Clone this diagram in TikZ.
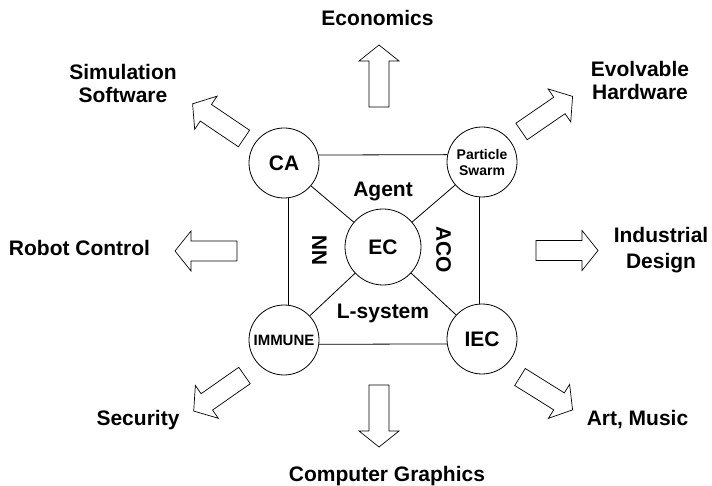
\documentclass[tikz,border=0pt]{standalone}
\usepackage{fontspec}
\setmainfont{Liberation Sans}
\newcommand\blockarrow[3]{\draw[barrow, shift={(#1)}, rotate=#3] (0,-10) -- (46,-10) -- (46,-20) -- (62,0) -- (46,20) -- (46,10) -- (0,10) -- cycle;}
\begin{document}
\begin{tikzpicture}[x=1pt,y=1pt,
  circ/.style={circle, draw, line width=0.8pt, fill=white, inner sep=0pt, minimum size=70pt, font=\fontsize{21}{23}\selectfont\bfseries},
  conn/.style={line width=0.8pt},
  barrow/.style={draw, line width=0.7pt, fill=white, line join=miter},
  lab/.style={inner sep=0pt, anchor=north, align=center, font=\fontsize{21}{23}\selectfont\bfseries},
  inlab/.style={inner sep=0pt, font=\fontsize{21}{23}\selectfont\bfseries}]
\useasboundingbox (0,0) rectangle (712,485);
% circles
\node[circ] (CA) at (284,322) {CA};
\node[circ, font=\fontsize{14}{16}\selectfont\bfseries, align=center] (PS) at (482,323) {Particle\\Swarm};
\node[circ, minimum size=76pt] (EC) at (383,238) {EC};
\node[circ, font=\fontsize{15}{17}\selectfont\bfseries] (IM) at (284,145) {IMMUNE};
\node[circ] (IEC) at (482,146) {IEC};
% connectors
\draw[conn] (CA.13) -- (PS.168);
\draw[conn] (IM.-7) -- (IEC.-172);
\draw[conn] (CA.-83) -- (IM.83);
\draw[conn] (PS.-95) -- (IEC.95);
\draw[conn] (CA) -- (EC);
\draw[conn] (PS) -- (EC);
\draw[conn] (IM) -- (EC);
\draw[conn] (IEC) -- (EC);
% inner labels
\node[inlab, anchor=base] (agent) at (383,288) {Agent};
\node[inlab, anchor=base] (lsys) at (383,166) {L-system};
\node[inlab, rotate=90] (nn) at (319.5,235) {NN};
\node[inlab, rotate=-90] (aco) at (443.5,235.5) {ACO};
% block arrows
\blockarrow{379,378}{}{90}
\blockarrow{379,100}{}{-90}
\blockarrow{237,234}{}{180}
\blockarrow{536,234.5}{}{0}
\blockarrow{244,346.5}{}{146}
\blockarrow{521.5,353.5}{}{34.5}
\blockarrow{244.5,109.5}{}{215}
\blockarrow{520,108}{}{-32}
% outer labels
\node[lab] (econ) at (377.5,475) {Economics};
\node[lab] (sim) at (123,421) {Simulation\\Software};
\node[lab] (evo) at (640,424) {Evolvable\\Hardware};
\node[lab] (robot) at (79.5,245) {Robot Control};
\node[lab, font=\fontsize{21}{26.5}\selectfont\bfseries] (ind) at (661,258) {Industrial\\Design};
\node[lab] (sec) at (138,75) {Security};
\node[lab] (art) at (637.5,75) {Art, Music};
\node[lab] (cg) at (387,19) {Computer Graphics};
\end{tikzpicture}
\end{document}
